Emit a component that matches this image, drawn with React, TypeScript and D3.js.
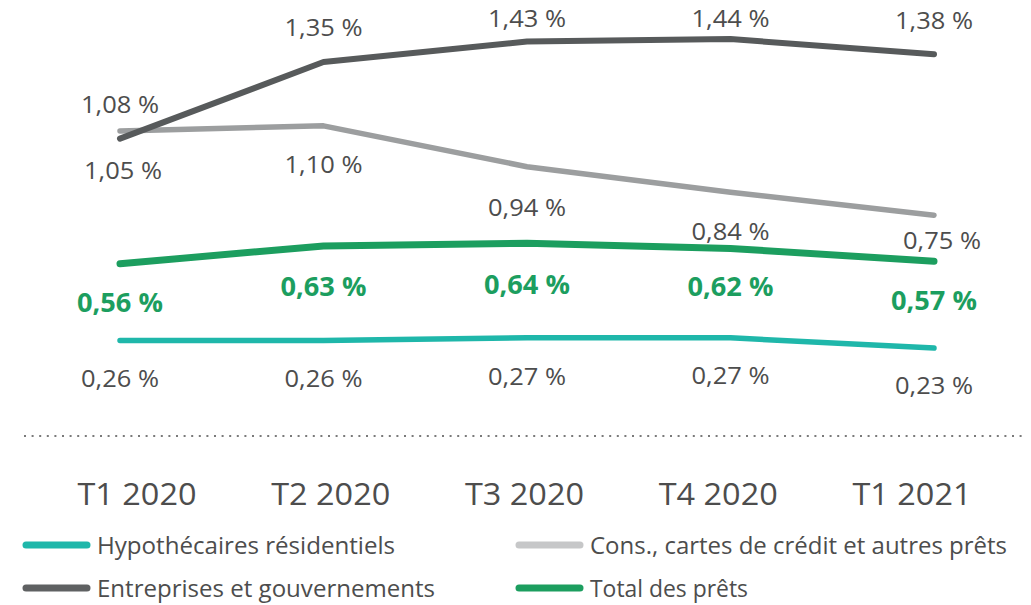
import React from "react";
import * as d3 from "d3";

const categories = ["T1 2020", "T2 2020", "T3 2020", "T4 2020", "T1 2021"];
const hypothecaires = [0.26, 0.26, 0.27, 0.27, 0.23];
const consommation = [1.08, 1.1, 0.94, 0.84, 0.75];
const entreprises = [1.05, 1.35, 1.43, 1.44, 1.38];
const totalPrets = [0.56, 0.63, 0.64, 0.62, 0.57];
const seriesNames = [
  "Hypothécaires résidentiels",
  "Cons., cartes de crédit et autres prêts",
  "Entreprises et gouvernements",
  "Total des prêts",
];

// label layout: baseline offsets relative to the line point (px)
const labelDy = {
  hyp: [47, 47, 47, 46, 46],
  cons: [-18, 47, 49, 48, 34],
  ent: [40, -26, -15, -12, -25],
  tot: [48, 50, 51, 48, 49],
};
const labelDx = {
  hyp: [0, 0, 0, 0, 0],
  cons: [0, 0, 0, 0, 8],
  ent: [3, 0, 0, 0, 0],
  tot: [0, 0, 0, 0, 0],
};

const W = 1031;
const H = 605;
const FONT = "'Open Sans', 'Noto Sans', sans-serif";
const TXT = "#4d4d4d";

const fmt = (v: number) => v.toFixed(2).replace(".", ",") + " %";

export default function App() {
  const x = d3.scalePoint<string>().domain(categories).range([120, 934]);
  const y = d3.scaleLinear().domain([0, 1.5]).range([406.8, 23.7]);
  const xAxisLabel = d3.scalePoint<string>().domain(categories).range([137, 912]);

  const line = d3
    .line<number>()
    .x((_, i) => x(categories[i]) as number)
    .y((d) => y(d));

  const series = [
    { key: "cons", data: consommation, color: "#9c9e9f", width: 5.5, bold: false, lblColor: TXT },
    { key: "ent", data: entreprises, color: "#575a5b", width: 6, bold: false, lblColor: TXT },
    { key: "hyp", data: hypothecaires, color: "#1fb7aa", width: 5.5, bold: false, lblColor: TXT },
    { key: "tot", data: totalPrets, color: "#1c9e5f", width: 7, bold: true, lblColor: "#1c9e5f" },
  ];

  const legend = [
    { name: seriesNames[0], color: "#1fb7aa", x: 23, y: 545, tx: 97, len: 298 },
    { name: seriesNames[1], color: "#c6c7c8", x: 516, y: 545, tx: 590, len: 417 },
    { name: seriesNames[2], color: "#5f6162", x: 23, y: 588, tx: 97, len: 338 },
    { name: seriesNames[3], color: "#1c9e5f", x: 516, y: 588, tx: 590, len: 158 },
  ];

  return (
    <svg width={W} height={H} style={{ position: "absolute", left: 0, top: 0, background: "#fff" }}>
      {series.map((s) => (
        <path
          key={s.key}
          d={line(s.data) as string}
          fill="none"
          stroke={s.color}
          strokeWidth={s.width}
          strokeLinecap="round"
          strokeLinejoin="round"
        />
      ))}
      {series.map((s) =>
        s.data.map((v, i) => (
          <text
            key={s.key + i}
            x={(x(categories[i]) as number) + (labelDx as any)[s.key][i]}
            y={y(v) + (labelDy as any)[s.key][i]}
            textAnchor="middle"
            fontFamily={FONT}
            fontSize={s.bold ? 26 : 24}
            fontWeight={s.bold ? 700 : 400}
            fill={s.lblColor}
            textLength={s.bold ? 86 : 78}
            lengthAdjust="spacingAndGlyphs"
          >
            {fmt(v)}
          </text>
        ))
      )}
      <line x1={24} x2={1026} y1={436} y2={436} stroke="#7a7a7a" strokeWidth={2} strokeDasharray="2 5.6" />
      {categories.map((c) => (
        <text
          key={c}
          x={xAxisLabel(c) as number}
          y={505}
          textAnchor="middle"
          fontFamily={FONT}
          fontSize={31}
          fill={TXT}
          textLength={119}
          lengthAdjust="spacingAndGlyphs"
        >
          {c}
        </text>
      ))}
      {legend.map((l) => (
        <g key={l.name}>
          <line x1={l.x + 3} x2={l.x + 64} y1={l.y} y2={l.y} stroke={l.color} strokeWidth={7} strokeLinecap="round" />
          <text
            x={l.tx}
            y={l.y + 9}
            fontFamily={FONT}
            fontSize={24}
            fill={TXT}
            textLength={l.len}
            lengthAdjust="spacingAndGlyphs"
          >
            {l.name}
          </text>
        </g>
      ))}
    </svg>
  );
}
